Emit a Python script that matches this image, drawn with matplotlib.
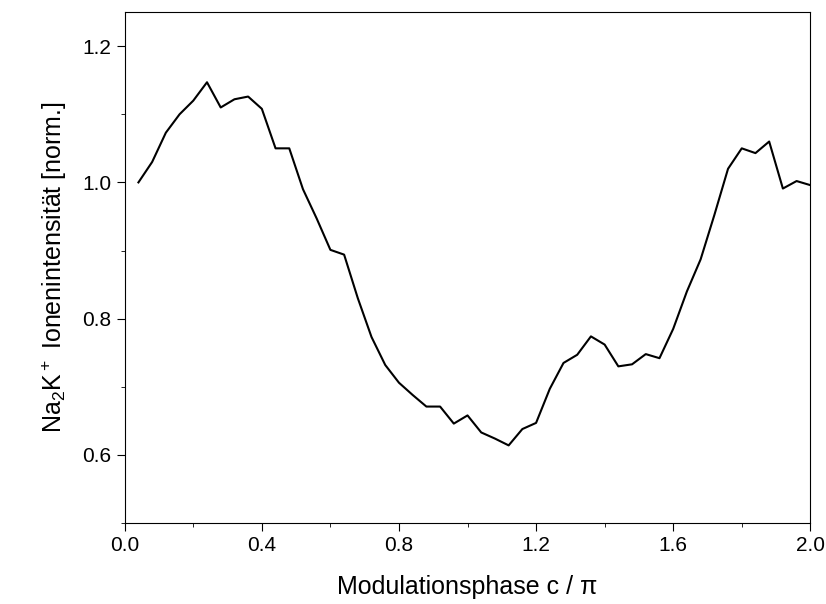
import matplotlib
matplotlib.use("Agg")
import matplotlib.pyplot as plt
from matplotlib.ticker import MultipleLocator, FormatStrFormatter

plt.rcParams['font.family'] = ['Liberation Sans', 'DejaVu Sans']
plt.rcParams['mathtext.default'] = 'regular'

phase = [0.04, 0.08, 0.12, 0.16, 0.20, 0.24, 0.28, 0.32, 0.36, 0.40,
         0.44, 0.48, 0.52, 0.56, 0.60, 0.64, 0.68, 0.72, 0.76, 0.80,
         0.84, 0.88, 0.92, 0.96, 1.00, 1.04, 1.08, 1.12, 1.16, 1.20,
         1.24, 1.28, 1.32, 1.36, 1.40, 1.44, 1.48, 1.52, 1.56, 1.60,
         1.64, 1.68, 1.72, 1.76, 1.80, 1.84, 1.88, 1.92, 1.96, 2.00]
intensity = [1.000, 1.030, 1.073, 1.100, 1.120, 1.147, 1.110, 1.122, 1.126, 1.108,
             1.050, 1.050, 0.990, 0.947, 0.901, 0.894, 0.830, 0.773, 0.732, 0.706,
             0.688, 0.671, 0.671, 0.646, 0.658, 0.633, 0.624, 0.614, 0.638, 0.647,
             0.697, 0.735, 0.747, 0.774, 0.762, 0.730, 0.733, 0.748, 0.742, 0.785,
             0.840, 0.887, 0.952, 1.020, 1.050, 1.043, 1.060, 0.991, 1.002, 0.996]

fig = plt.figure(figsize=(8.26, 6.04), dpi=100)
ax = fig.add_axes([0.151, 0.134, 0.830, 0.846])
ax.plot(phase, intensity, color='black', lw=1.5)

ax.set_xlim(0, 2.0)
ax.set_ylim(0.5, 1.25)
ax.xaxis.set_major_locator(MultipleLocator(0.4))
ax.xaxis.set_minor_locator(MultipleLocator(0.2))
ax.yaxis.set_minor_locator(MultipleLocator(0.1))
ax.set_yticks([0.6, 0.8, 1.0, 1.2])
ax.tick_params(which='major', length=6, labelsize=15)
ax.tick_params(which='minor', length=3)
ax.xaxis.set_major_formatter(FormatStrFormatter('%.1f'))
ax.yaxis.set_major_formatter(FormatStrFormatter('%.1f'))

ax.set_xlabel('Modulationsphase c / \u03c0', fontsize=18, labelpad=14)
ax.set_ylabel('Na$_2$K$^+$ Ionenintensität [norm.]', fontsize=18, labelpad=10)

fig.savefig('out.png', dpi=100)
